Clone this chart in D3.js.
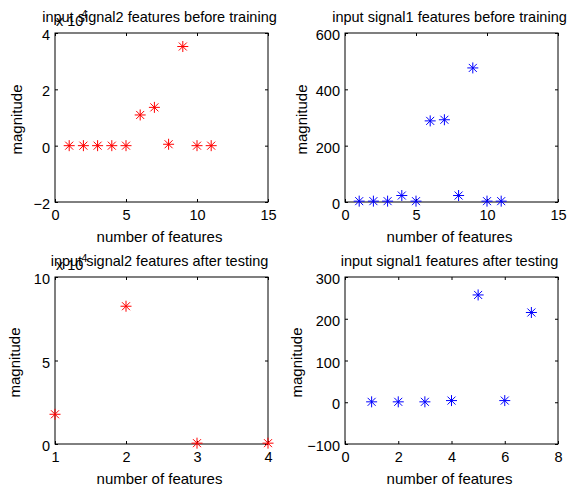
<!DOCTYPE html>
<html>
<head>
<meta charset="utf-8">
<script src="https://cdn.jsdelivr.net/npm/d3@7"></script>
<style>
  html, body { margin: 0; padding: 0; background: #fff; }
  svg { display: block; }
  text { font-family: "Liberation Sans", Arial, sans-serif; fill: #000; }
</style>
</head>
<body>
<svg id="fig" width="575" height="486"></svg>
<script>
// Feature magnitudes for the two input signals (signal2 values in units of 1e4)
const sig2TrainX = [1, 2, 3, 4, 5, 6, 7, 8, 9, 10, 11];
const sig2TrainY = [0, 0, 0, 0, 0, 1.09, 1.36, 0.05, 3.52, 0, 0];

const sig1TrainX = [1, 2, 3, 4, 5, 6, 7, 8, 9, 10, 11];
const sig1TrainY = [3, 3, 3, 23, 3, 288, 292, 23, 476, 3, 3];

const sig2TestX = [1, 2, 3, 4];
const sig2TestY = [1.78, 8.25, 0.05, 0.05];

const sig1TestX = [1, 2, 3, 4, 5, 6, 7];
const sig1TestY = [1, 1, 1, 4, 257, 4, 215];

// Axis limits and tick values
const sig2TrainXTicks = [0, 5, 10, 15];
const sig2TrainYTicks = [-2, 0, 2, 4];
const sig1TrainXTicks = [0, 5, 10, 15];
const sig1TrainYTicks = [0, 200, 400, 600];
const sig2TestXTicks = [1, 2, 3, 4];
const sig2TestYTicks = [0, 5, 10];
const sig1TestXTicks = [0, 2, 4, 6, 8];
const sig1TestYTicks = [-100, 0, 100, 200, 300];

const titles = [
  "input signal2 features before training",
  "input signal1 features before training",
  "input signal2 features after testing",
  "input signal1 features after testing"
];
const xLabel = "number of features";
const yLabel = "magnitude";

// box = [left, right, top, bottom]; ylab = gap from the left edge to the y-label baseline
const panels = [
  { title: titles[0], xs: sig2TrainX, ys: sig2TrainY, xt: sig2TrainXTicks, yt: sig2TrainYTicks,
    color: "#ff0000", exponent: "4", box: [55, 268, 33, 202], ylab: 33 },
  { title: titles[1], xs: sig1TrainX, ys: sig1TrainY, xt: sig1TrainXTicks, yt: sig1TrainYTicks,
    color: "#0000ff", exponent: null, box: [345, 558, 33, 202], ylab: 38 },
  { title: titles[2], xs: sig2TestX, ys: sig2TestY, xt: sig2TestXTicks, yt: sig2TestYTicks,
    color: "#ff0000", exponent: "4", box: [55, 268, 277, 444], ylab: 35 },
  { title: titles[3], xs: sig1TestX, ys: sig1TestY, xt: sig1TestXTicks, yt: sig1TestYTicks,
    color: "#0000ff", exponent: null, box: [345, 558, 277, 444], ylab: 43 }
];

const FONT = "Liberation Sans, Arial, sans-serif";
const svg = d3.select("#fig");

// Asterisk marker: a plus and a cross overlaid
function asterisk(g, cx, cy, color) {
  const a = 5.5, b = 4;
  const m = g.append("g").attr("transform", `translate(${cx},${cy})`)
    .attr("stroke", color).attr("stroke-width", 1).attr("fill", "none");
  m.append("line").attr("x1", -a).attr("x2", a).attr("y1", 0).attr("y2", 0);
  m.append("line").attr("x1", 0).attr("x2", 0).attr("y1", -a).attr("y2", a);
  m.append("line").attr("x1", -b).attr("x2", b).attr("y1", -b).attr("y2", b);
  m.append("line").attr("x1", -b).attr("x2", b).attr("y1", b).attr("y2", -b);
}

panels.forEach(p => {
  const [x0, x1, y0, y1] = p.box;
  const xs = d3.scaleLinear().domain(d3.extent(p.xt)).range([x0, x1]);
  const ys = d3.scaleLinear().domain(d3.extent(p.yt)).range([y1, y0]);
  const g = svg.append("g");
  const tickLen = 3;
  const cx = (x0 + x1) / 2;

  // Bottom axis with labels; ticks point inward
  g.append("g").attr("transform", `translate(0,${y1})`)
    .call(d3.axisBottom(xs).tickValues(p.xt).tickSizeInner(-tickLen).tickSizeOuter(0).tickPadding(8).tickFormat(d3.format("d")))
    .call(a => a.select(".domain").remove())
    .call(a => a.selectAll("text").attr("font-size", 14.5).attr("font-family", FONT).attr("fill", "#000"));
  // Top mirrored ticks
  g.append("g").attr("transform", `translate(0,${y0})`)
    .call(d3.axisTop(xs).tickValues(p.xt).tickSizeInner(-tickLen).tickSizeOuter(0).tickFormat(""))
    .call(a => a.select(".domain").remove());
  // Left axis with labels
  g.append("g").attr("transform", `translate(${x0},0)`)
    .call(d3.axisLeft(ys).tickValues(p.yt).tickSizeInner(-tickLen).tickSizeOuter(0).tickPadding(5).tickFormat(d3.format("d")))
    .call(a => a.select(".domain").remove())
    .call(a => a.selectAll("text").attr("font-size", 14.5).attr("font-family", FONT).attr("fill", "#000").attr("dy", "0.45em"));
  // Right mirrored ticks
  g.append("g").attr("transform", `translate(${x1},0)`)
    .call(d3.axisRight(ys).tickValues(p.yt).tickSizeInner(-tickLen).tickSizeOuter(0).tickFormat(""))
    .call(a => a.select(".domain").remove());

  // Axes box
  g.append("rect").attr("x", x0).attr("y", y0).attr("width", x1 - x0).attr("height", y1 - y0)
    .attr("fill", "none").attr("stroke", "#000").attr("stroke-width", 1);

  // Data markers
  p.xs.forEach((xv, i) => asterisk(g, xs(xv), ys(p.ys[i]), p.color));

  // Exponent multiplier
  if (p.exponent) {
    const e = g.append("text").attr("x", x0 + 1).attr("y", y0 - 7).attr("font-size", 14.5);
    e.append("tspan").text("x 10");
    e.append("tspan").attr("font-size", 10.5).attr("dx", -2).attr("dy", -8).text(p.exponent);
  }

  // Title
  g.append("text").attr("x", cx - 2).attr("y", y0 - 11)
    .attr("text-anchor", "middle").attr("font-size", 14.5).text(p.title);

  // Axis labels
  g.append("text").attr("x", cx - 2).attr("y", y1 + 40)
    .attr("text-anchor", "middle").attr("font-size", 15).text(xLabel);
  g.append("text")
    .attr("transform", `translate(${x0 - p.ylab},${(y0 + y1) / 2 + 2}) rotate(-90)`)
    .attr("text-anchor", "middle").attr("font-size", 15).text(yLabel);
});
</script>
</body>
</html>
